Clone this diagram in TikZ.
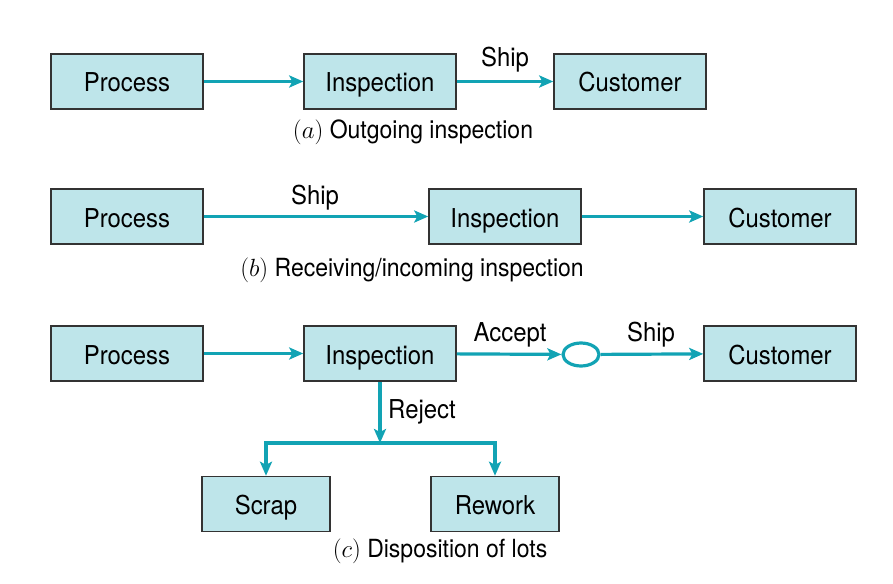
\documentclass[tikz,border=0pt]{standalone}
\usepackage{fontspec}
\setmainfont[FakeStretch=0.92]{TeX Gyre Heros}
\usetikzlibrary{arrows.meta,shapes.geometric}
\definecolor{boxfill}{HTML}{BEE5EA}
\definecolor{flow}{HTML}{12A3B4}
\definecolor{edge}{HTML}{333333}
\begin{document}
\begin{tikzpicture}[x=1pt,y=-1pt,
  box/.style={draw=edge,line width=1.5pt,fill=boxfill,minimum height=55pt,inner sep=0pt,text height=23pt,text depth=2pt,font=\fontsize{26}{30}\selectfont},
  wide/.style={box,minimum width=152pt},
  narrow/.style={box,minimum width=128pt},
  conn/.style={draw=flow,line width=3.2pt,-{Stealth[length=14pt,width=12pt,inset=3pt]}},
  lbl/.style={font=\fontsize{26}{30}\selectfont,inner sep=0pt,text height=19pt,text depth=5pt},
  captxt/.style={font=\fontsize{25}{30}\selectfont,inner sep=0pt,text height=19pt,text depth=5pt}]
\useasboundingbox (0,0) rectangle (893,583);
% row a
\node[wide] (pa) at (127,81.5) {Process};
\node[wide] (ia) at (380,81.5) {Inspection};
\node[wide] (ca) at (630,81.5) {Customer};
\draw[conn] (pa) -- (ia);
\draw[conn] (ia) -- (ca);
\node[lbl] (sa) at (505,60) {Ship};
\node[captxt] (capa) at (413,132) {$(a)$ Outgoing inspection};
% row b
\node[wide] (pb) at (127,216.5) {Process};
\node[wide] (ib) at (505,216.5) {Inspection};
\node[wide] (cb) at (780,216.5) {Customer};
\draw[conn] (pb) -- (ib);
\draw[conn] (ib) -- (cb);
\node[lbl] (sb) at (315,197) {Ship};
\node[captxt] (capb) at (412,269) {$(b)$ Receiving/incoming inspection};
% row c
\node[wide] (pc) at (127,353.5) {Process};
\node[wide] (ic) at (380,353.5) {Inspection};
\node[draw=flow,line width=3.2pt,ellipse,minimum width=36pt,minimum height=23pt,inner sep=0pt] (oc) at (581,354.5) {};
\node[wide] (cc) at (780,353.5) {Customer};
\draw[conn] (pc) -- (ic);
\draw[conn] (ic) -- (oc);
\draw[conn] (oc) -- (cc);
\node[lbl] (acc) at (510,334) {Accept};
\node[lbl] (sc) at (651,334) {Ship};
\coordinate (jn) at (380,443);
\draw[conn] (ic.south) -- (jn);
\node[lbl,anchor=west] (rej) at (388,411) {Reject};
\node[narrow] (sr) at (266,504) {Scrap};
\node[narrow] (rw) at (495,504) {Rework};
\draw[conn] (jn) -| (sr.north);
\draw[conn] (jn) -| (rw.north);
\node[captxt] (capc) at (440,550) {$(c)$ Disposition of lots};
\end{tikzpicture}
\end{document}
